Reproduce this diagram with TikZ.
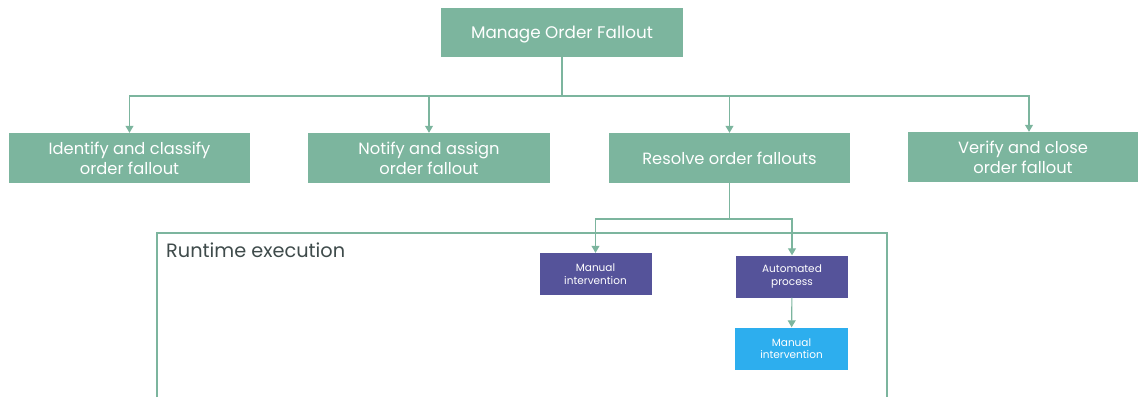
\documentclass[tikz,border=0pt]{standalone}
\usepackage{fontspec}
\setmainfont{Poppins}
\usetikzlibrary{arrows.meta}
\definecolor{grn}{HTML}{7CB59E}
\definecolor{prp}{HTML}{55539A}
\definecolor{blu}{HTML}{2DAEEE}
\definecolor{txt}{HTML}{3F4B4B}
\tikzset{
  big/.style={fill=grn, text=white, inner sep=0pt, align=center, font=\fontsize{16.3}{20}\selectfont},
  small/.style={text=white, inner sep=0pt, align=center, font=\fontsize{10.5}{12.5}\selectfont, minimum width=112pt, minimum height=42pt},
  conn/.style={draw=grn, line width=1.1pt},
  arr/.style={conn, -{Triangle[width=8pt,length=7pt]}}
}
\begin{document}
\begin{tikzpicture}[x=1pt,y=-1pt]
\useasboundingbox (0,0) rectangle (1138,397);
\node[big, minimum width=242pt, minimum height=49pt,
  label={[text=white, inner sep=0pt, font=\fontsize{16.8}{20}\selectfont, yshift=-2.5pt]center:Manage Order Fallout}] (top) at (562,32.5) {};
\node[big, minimum width=241pt, minimum height=50pt] (b1) at (129.5,158) {Identify and classify\\order fallout};
\node[big, minimum width=242pt, minimum height=50pt] (b2) at (429,158) {Notify and assign\\order fallout};
\node[big, minimum width=241pt, minimum height=50pt] (b3) at (729.5,158) {Resolve order fallouts};
\node[big, minimum width=230pt, minimum height=50pt] (b4) at (1023,157) {Verify and close\\order fallout};
\coordinate (bus) at (562,96);
\draw[conn] (top) -- (bus);
\draw[arr] (bus) -| (b1.north);
\draw[arr] (bus) -| (b2.north);
\draw[arr] (bus) -| (b3.north);
\draw[arr] (bus) -| ([xshift=6pt]b4.north);
% runtime container
\coordinate (rbl) at (157,397);
\coordinate (rtl) at (157,233);
\coordinate (rtr) at (887,233);
\coordinate (rbr) at (887,397);
\draw[conn] (rbl) -- (rtl) -- (rtr) -- (rbr);
\node[anchor=north west, text=txt, inner sep=0pt, font=\fontsize{19.3}{22}\selectfont] (rt) at (166,243) {Runtime execution};
\node[small, fill=prp] (m1) at (595.5,274) {Manual\\intervention};
\node[small, fill=prp] (a1) at (792,276.5) {Automated\\process};
\node[small, fill=blu, minimum width=113pt] (m2) at (791.5,348.5) {Manual\\intervention};
\coordinate (bus2) at (729.5,219);
\draw[conn] (b3) -- (bus2);
\draw[arr] (bus2) -| (m1.north);
\draw[arr] (bus2) -| (a1.north);
\draw[arr] (a1) -- (m2);
\end{tikzpicture}
\end{document}
